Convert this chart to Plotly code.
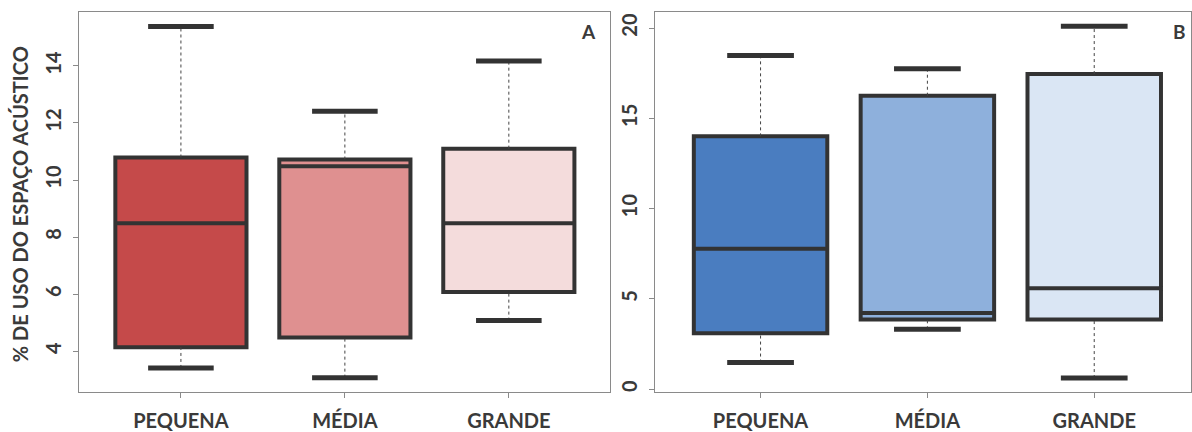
import plotly.graph_objects as go

W, H = 1192, 432

categories = ["PEQUENA", "MÉDIA", "GRANDE"]
positions = [1, 2, 3]

# Panel A: five-number summaries per size class
a_lower = [3.41, 3.07, 5.07]
a_q1 = [4.14, 4.48, 6.07]
a_median = [8.48, 10.48, 8.48]
a_q3 = [10.79, 10.72, 11.10]
a_upper = [15.38, 12.41, 14.17]
a_colors = ["#C54A4A", "#DF9090", "#F4DCDC"]
a_ticks = [4, 6, 8, 10, 12, 14]

# Panel B: five-number summaries per size class
b_lower = [1.47, 3.31, 0.61]
b_q1 = [3.09, 3.86, 3.86]
b_median = [7.77, 4.22, 5.58]
b_q3 = [14.00, 16.25, 17.45]
b_upper = [18.48, 17.75, 20.10]
b_colors = ["#4A7DC0", "#8EB0DC", "#DAE6F4"]
b_ticks = [0, 5, 10, 15, 20]

BOX_W = 0.8
CAP_HALF = 0.2
EDGE = "#333333"
FRAME = "#8A8A8A"
TXT = "#3A3A3A"
FONT = "Lato"

fig = go.Figure()


def add_panel(xa, ya, lower, q1, med, q3, upper, colors):
    for i, pos in enumerate(positions):
        # dotted whiskers
        for a, b in ((q3[i], upper[i]), (lower[i], q1[i])):
            fig.add_trace(go.Scatter(
                x=[pos, pos], y=[a, b], mode="lines",
                line=dict(color="#444444", width=1, dash="dot"),
                xaxis=xa, yaxis=ya, showlegend=False, hoverinfo="skip"))
        # whisker caps
        for v in (lower[i], upper[i]):
            fig.add_trace(go.Scatter(
                x=[pos - CAP_HALF, pos + CAP_HALF], y=[v, v], mode="lines",
                line=dict(color=EDGE, width=5),
                xaxis=xa, yaxis=ya, showlegend=False, hoverinfo="skip"))
        # box with median
        fig.add_trace(go.Box(
            x=[pos], q1=[q1[i]], median=[med[i]], q3=[q3[i]],
            lowerfence=[q1[i]], upperfence=[q3[i]],
            width=BOX_W, fillcolor=colors[i],
            line=dict(color=EDGE, width=4),
            boxpoints=False, whiskerwidth=0,
            xaxis=xa, yaxis=ya, showlegend=False, hoverinfo="skip"))


add_panel("x", "y", a_lower, a_q1, a_median, a_q3, a_upper, a_colors)
add_panel("x2", "y2", b_lower, b_q1, b_median, b_q3, b_upper, b_colors)

ydom = [33 / H, 420 / H]
common_x = dict(
    tickvals=positions, ticktext=categories, showline=True, mirror=True,
    linecolor=FRAME, linewidth=1, ticks="outside", ticklen=5, tickcolor=FRAME,
    showgrid=False, zeroline=False, ticklabelstandoff=6,
    tickfont=dict(family=FONT, size=20, color=TXT, weight="bold"),
)
common_y = dict(
    showline=True, mirror=True, linecolor=FRAME, linewidth=1,
    ticks="outside", ticklen=5, tickcolor=FRAME, showgrid=False,
    zeroline=False, tickangle=-90, ticklabelstandoff=4,
    tickfont=dict(family=FONT, size=20, color=TXT, weight="bold"),
)

fig.update_layout(
    width=W, height=H,
    margin=dict(l=0, r=0, t=0, b=0),
    paper_bgcolor="white", plot_bgcolor="white",
    xaxis=dict(domain=[79 / W, 611 / W], range=[0.378, 3.62], anchor="y",
               **common_x),
    yaxis=dict(domain=ydom, range=[2.58, 15.9], tickvals=a_ticks,
               anchor="x", **common_y),
    xaxis2=dict(domain=[656 / W, 1.0], range=[0.37, 3.58], anchor="y2",
                **common_x),
    yaxis2=dict(domain=ydom, range=[-0.14, 20.9], tickvals=b_ticks,
                anchor="x2", **common_y),
    annotations=[
        dict(text="% DE USO DO ESPAÇO ACÚSTICO", xref="paper", yref="paper",
             x=20 / W, y=(H - 208) / H, textangle=-90, showarrow=False,
             xanchor="center", yanchor="middle",
             font=dict(family=FONT, size=20, color=TXT, weight="bold")),
        dict(text="A", xref="paper", yref="paper", x=589 / W, y=(H - 32) / H,
             showarrow=False, xanchor="center", yanchor="middle",
             font=dict(family=FONT, size=19, color=TXT, weight="bold")),
        dict(text="B", xref="paper", yref="paper", x=1180 / W, y=(H - 32) / H,
             showarrow=False, xanchor="center", yanchor="middle",
             font=dict(family=FONT, size=19, color=TXT, weight="bold")),
    ],
)

fig.write_html("out.html")
